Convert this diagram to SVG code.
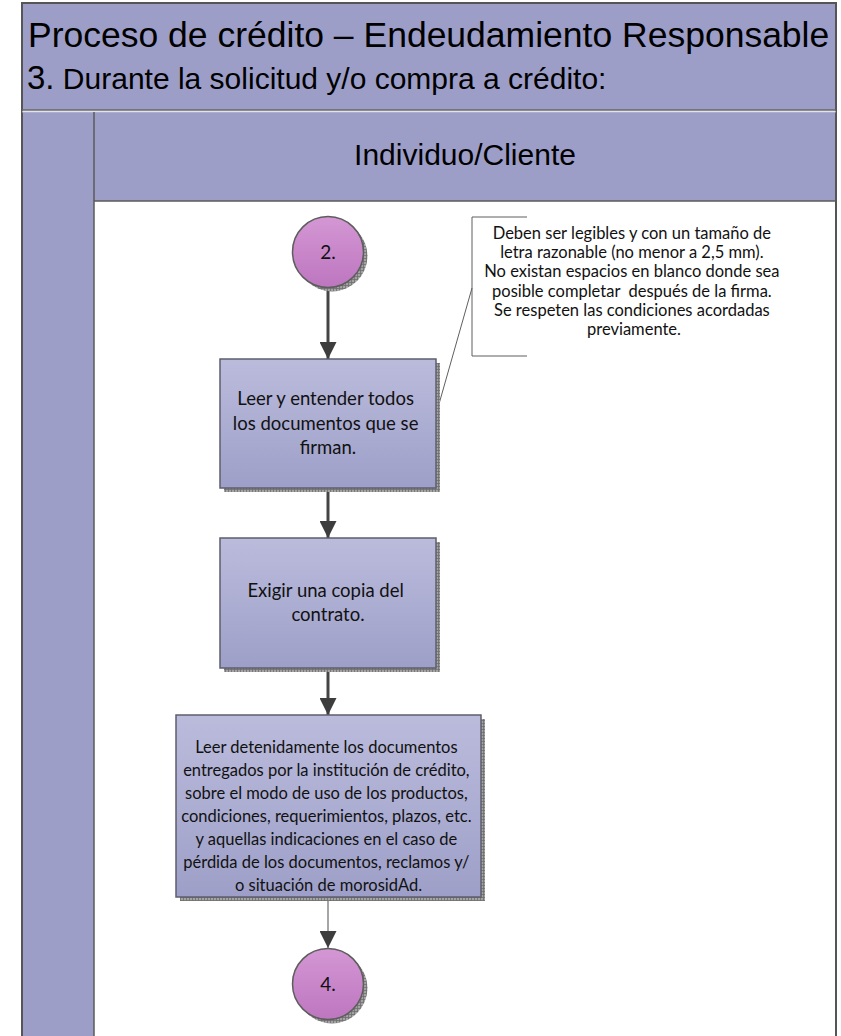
<svg xmlns="http://www.w3.org/2000/svg" width="841" height="1036" viewBox="0 0 841 1036">
  <defs>
    <linearGradient id="boxGrad" x1="0" y1="0" x2="0" y2="1">
      <stop offset="0" stop-color="#bbbcdc"/>
      <stop offset="1" stop-color="#9d9fc8"/>
    </linearGradient>
    <linearGradient id="circGrad" x1="0" y1="0" x2="0" y2="1">
      <stop offset="0" stop-color="#d497d4"/>
      <stop offset="1" stop-color="#bd76bf"/>
    </linearGradient>
    <pattern id="hatch" width="3" height="3" patternUnits="userSpaceOnUse">
      <rect width="3" height="3" fill="#a3a3a3"/>
      <path d="M0,0.5 H3 M0.5,0 V3" stroke="#6e6e6e" stroke-width="0.8"/>
    </pattern>
    <marker id="head" markerUnits="userSpaceOnUse" markerWidth="18" markerHeight="17" refX="17" refY="8.5" orient="auto">
      <path d="M0,0 L17,8.5 L0,17 Z" fill="#3d3d3d"/>
    </marker>
    <style>
      .band { fill:#9c9ec8; }
      .edge { fill:none; stroke:#555; stroke-width:2; }
      .thin { fill:none; stroke:#5f5f5f; stroke-width:1; }
      .box { fill:url(#boxGrad); stroke:#5d5e6c; stroke-width:1.5; }
      .circ { fill:url(#circGrad); stroke:#5d5d5d; stroke-width:1.5; }
      .shadow { fill:url(#hatch); }
      .flow { fill:none; stroke:#444; stroke-width:3; marker-end:url(#head); }
      .flow-thin { fill:none; stroke:#888; stroke-width:1.5; marker-end:url(#head); }
      .head { font-family:"Liberation Sans", Arial, sans-serif; fill:#000; }
      .t { font-family:Lato, "Liberation Sans", sans-serif; fill:#111; text-anchor:middle; }
    </style>
  </defs>

  <!-- pool frame and title band -->
  <g id="pool">
    <rect class="band" x="22" y="3" width="814" height="107"/>
    <rect class="band" x="22" y="112" width="72" height="930"/>
    <rect class="band" x="94" y="112" width="742" height="89"/>
    <rect x="94" y="201" width="742" height="840" fill="#ffffff"/>
    <path class="edge" d="M22,1040 V3 H836 V1040"/>
    <line x1="22" y1="110" x2="836" y2="110" stroke="#666" stroke-width="1.5"/>
    <line x1="22" y1="111.8" x2="836" y2="111.8" stroke="#d8d8e6" stroke-width="1"/>
    <line x1="94" y1="112" x2="94" y2="1040" stroke="#5a5a5a" stroke-width="1.5"/>
    <line x1="94" y1="201" x2="836" y2="201" stroke="#5a5a5a" stroke-width="1.5"/>
    <text class="head" x="28" y="47" font-size="35.5">Proceso de crédito – Endeudamiento Responsable</text>
    <text class="head" x="27" y="89"><tspan font-size="33">3.</tspan><tspan font-size="30"> Durante la solicitud y/o compra a crédito:</tspan></text>
    <text class="head" x="465" y="165" font-size="30" text-anchor="middle">Individuo/Cliente</text>
  </g>

  <!-- connectors -->
  <g id="connectors">
    <line class="flow" x1="328" y1="288" x2="328" y2="359"/>
    <line class="flow" x1="328" y1="488" x2="328" y2="538"/>
    <line class="flow" x1="328" y1="668" x2="328" y2="715"/>
    <line class="flow-thin" x1="328" y1="897" x2="328" y2="948"/>
    <line x1="472" y1="288" x2="437" y2="411" stroke="#5f5f5f" stroke-width="1"/>
  </g>

  <g id="start2">
    <circle class="shadow" cx="332" cy="256" r="35.5"/>
    <circle class="circ" cx="328" cy="252" r="35.5"/>
    <text class="t" x="328" y="259" font-size="19">2.</text>
  </g>

  <g id="note">
    <path class="thin" d="M527,217 H472 V356 H527"/>
    <text class="t" font-size="16.5">
      <tspan x="634" y="239">Deben ser legibles y con un tamaño de</tspan>
      <tspan x="634" y="258">letra razonable (no menor a 2,5 mm).</tspan>
      <tspan x="634" y="277">No existan espacios en blanco donde sea</tspan>
      <tspan x="634" y="297">posible completar&#160; después de la firma.</tspan>
      <tspan x="634" y="316">Se respeten las condiciones acordadas</tspan>
      <tspan x="634" y="335">previamente.</tspan>
    </text>
  </g>

  <g id="leer">
    <rect class="shadow" x="224" y="363" width="216" height="129"/>
    <rect class="box" x="220" y="359" width="216" height="129"/>
    <text class="t" font-size="18.5">
      <tspan x="328" y="405">Leer y entender todos</tspan>
      <tspan x="328" y="429.5">los documentos que se</tspan>
      <tspan x="328" y="454">firman.</tspan>
    </text>
  </g>

  <g id="copia">
    <rect class="shadow" x="224" y="542" width="216" height="130"/>
    <rect class="box" x="220" y="538" width="216" height="130"/>
    <text class="t" font-size="18.5">
      <tspan x="328" y="597">Exigir una copia del</tspan>
      <tspan x="328" y="621">contrato.</tspan>
    </text>
  </g>

  <g id="detenidamente">
    <rect class="shadow" x="180" y="719" width="305" height="182"/>
    <rect class="box" x="176" y="715" width="305" height="182"/>
    <text class="t" font-size="16.5">
      <tspan x="328.5" y="753">Leer detenidamente los documentos</tspan>
      <tspan x="328.5" y="776">entregados por la institución de crédito,</tspan>
      <tspan x="328.5" y="799">sobre el modo de uso de los productos,</tspan>
      <tspan x="328.5" y="822">condiciones, requerimientos, plazos, etc.</tspan>
      <tspan x="328.5" y="845">y aquellas indicaciones en el caso de</tspan>
      <tspan x="328.5" y="868">pérdida de los documentos, reclamos y/</tspan>
      <tspan x="328.5" y="891">o situación de morosidAd.</tspan>
    </text>
  </g>

  <g id="next4">
    <circle class="shadow" cx="332" cy="988" r="35.5"/>
    <circle class="circ" cx="328" cy="984" r="35.5"/>
    <text class="t" x="328" y="991" font-size="19">4.</text>
  </g>
</svg>
